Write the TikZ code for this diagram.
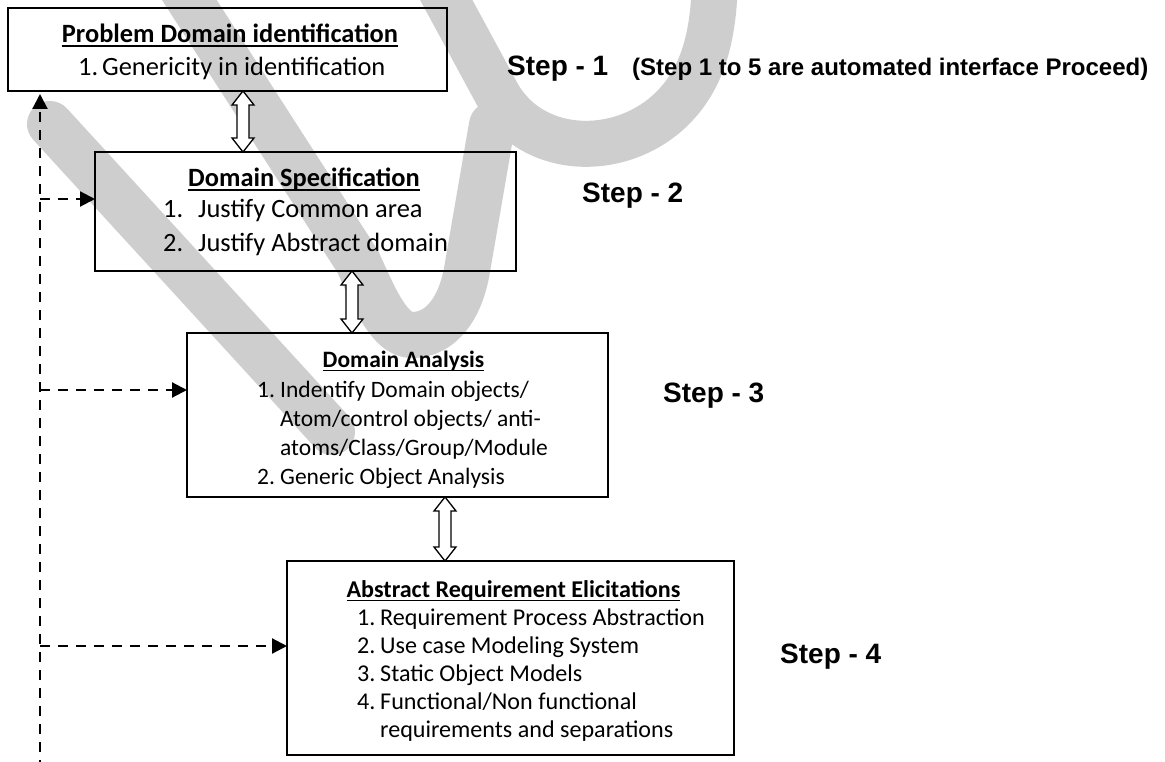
\documentclass[tikz,border=0pt]{standalone}
\usepackage{fontspec}
\setmainfont{Carlito}
\newfontfamily\stepfont{Liberation Sans}
\newsavebox\ulbox
\newcommand\uln[1]{\sbox\ulbox{#1}\rlap{\rule[-4pt]{\wd\ulbox}{1.5pt}}\usebox\ulbox}
\usetikzlibrary{arrows.meta,calc}
\definecolor{wmgrey}{RGB}{206,206,206}
\newcommand\dblarrow[2]{%
  \draw[dblarr] let \p1=(#1), \p2=(#2) in
    (\x1,\y1) -- (\x1+11pt,\y1-14pt) -- (\x1+6pt,\y1-14pt) -- (\x2+6pt,\y2+14pt)
    -- (\x2+11pt,\y2+14pt) -- (\x2,\y2) -- (\x2-11pt,\y2+14pt) -- (\x2-6pt,\y2+14pt)
    -- (\x1-6pt,\y1-14pt) -- (\x1-11pt,\y1-14pt) -- cycle;}
\tikzset{
  wm/.style={draw=wmgrey, line width=46pt, line cap=round, line join=round},
  box/.style={draw, line width=1.8pt, inner sep=0pt, outer sep=0pt, anchor=north west},
  ttlA/.style={anchor=base, inner sep=0pt, font={\fontsize{26.4}{30}\selectfont\bfseries}},
  lineA/.style={anchor=base west, inner sep=0pt, font={\fontsize{26.4}{30}\selectfont}},
  ttlB/.style={anchor=base, inner sep=0pt, font={\fontsize{23.5}{28}\selectfont\bfseries}},
  lineB/.style={anchor=base west, inner sep=0pt, font={\fontsize{23.5}{28}\selectfont}},
  ttlC/.style={anchor=base, inner sep=0pt, font={\fontsize{24.1}{28}\selectfont\bfseries}},
  lineC/.style={anchor=base west, inner sep=0pt, font={\fontsize{24.1}{28}\selectfont}},
  steplbl/.style={anchor=base west, inner sep=0pt, font={\stepfont\bfseries\fontsize{28}{32}\selectfont}},
  notelbl/.style={anchor=base west, inner sep=0pt, font={\stepfont\bfseries\fontsize{24}{28}\selectfont}},
  dashconn/.style={line width=2.2pt, dash pattern=on 10pt off 8pt, -{Triangle[length=15pt,width=15pt]}},
  dblarr/.style={draw, line width=1.3pt, fill=white, line join=miter}
}
\begin{document}
\begin{tikzpicture}[x=1pt,y=-1pt]
\useasboundingbox[fill=white] (0,0) rectangle (1165,762);
% watermark strokes
\draw[wm] (50,124) -- (332,432);
\draw[wm] (170,-30) -- (358,262) .. controls (375,300) and (390,335) .. (412,335)
  .. controls (440,335) and (460,310) .. (467,270) -- (492,125);
\draw[wm] (430,-30) -- (495,90) .. controls (530,160) and (630,160) .. (680,100)
  .. controls (705,70) and (715,30) .. (715,-30);
% boxes
\node[box, minimum width=439pt, minimum height=83pt] (b1) at (8,8) {};
\node[box, minimum width=421pt, minimum height=119pt] (b2) at (95,152) {};
\node[box, minimum width=421pt, minimum height=164pt] (b3) at (187,333) {};
\node[box, minimum width=447pt, minimum height=194pt] (b4) at (287,561) {};
% box texts
\node[ttlA] (t1) at (230,43) {\uln{Problem Domain identification}};
\node[lineA] (t1a) at (78,76) {\makebox[24pt][l]{1.}Genericity in identification};
\node[ttlA] (t2) at (304,187) {\uln{Domain Specification}};
\node[lineA] (t2a) at (163,218) {\makebox[35pt][l]{1.}Justify Common area};
\node[lineA] (t2b) at (163,252) {\makebox[35pt][l]{2.}Justify Abstract domain};
\node[ttlB] (t3) at (403.5,367) {\uln{Domain Analysis}};
\node[lineB] (t3a) at (257,397) {\makebox[23pt][l]{1.}Indentify Domain objects/};
\node[lineB] (t3b) at (280,426) {Atom/control objects/ anti-};
\node[lineB] (t3c) at (280,455) {atoms/Class/Group/Module};
\node[lineB] (t3d) at (257,484) {\makebox[23pt][l]{2.}Generic Object Analysis};
\node[ttlC] (t4) at (513.5,597) {\uln{Abstract Requirement Elicitations}};
\node[lineC] (t4a) at (357,625) {\makebox[23pt][l]{1.}Requirement Process Abstraction};
\node[lineC] (t4b) at (357,653) {\makebox[23pt][l]{2.}Use case Modeling System};
\node[lineC] (t4c) at (357,681) {\makebox[23pt][l]{3.}Static Object Models};
\node[lineC] (t4d) at (357,709) {\makebox[23pt][l]{4.}Functional/Non functional};
\node[lineC] (t4e) at (380,737) {requirements and separations};
% step labels
\node[steplbl] (s1) at (507,76) {Step - 1};
\node[notelbl] (s0) at (632,76) {(Step 1 to 5 are automated interface Proceed)};
\node[steplbl] (s2) at (582,203) {Step - 2};
\node[steplbl] (s3) at (663,402) {Step - 3};
\node[steplbl] (s4) at (780,663) {Step - 4};
% double arrows between boxes
\coordinate (u1) at ($(b1.south west)+(235,0)$);
\coordinate (d1) at ($(b2.north west)+(148,0)$);
\coordinate (u2) at ($(b2.south west)+(257,0)$);
\coordinate (d2) at ($(b3.north west)+(165,0)$);
\coordinate (u3) at ($(b3.south west)+(258,0)$);
\coordinate (d3) at ($(b4.north west)+(158,0)$);
\dblarrow{u1}{d1}
\dblarrow{u2}{d2}
\dblarrow{u3}{d3}
% feedback dashed lines
\coordinate (dbot) at (40,770);
\coordinate (dtop) at ($(b1.south west)+(32,3)$);
\coordinate (a2) at ($(b2.north west)+(0,47)$);
\coordinate (a3) at ($(b3.north west)+(0,57)$);
\coordinate (a4) at ($(b4.north west)+(0,85)$);
\draw[dashconn] (dbot) -- (dtop);
\draw[dashconn] (dbot |- a2) -- (a2);
\draw[dashconn] (dbot |- a3) -- (a3);
\draw[dashconn] (dbot |- a4) -- (a4);
\end{tikzpicture}
\end{document}
